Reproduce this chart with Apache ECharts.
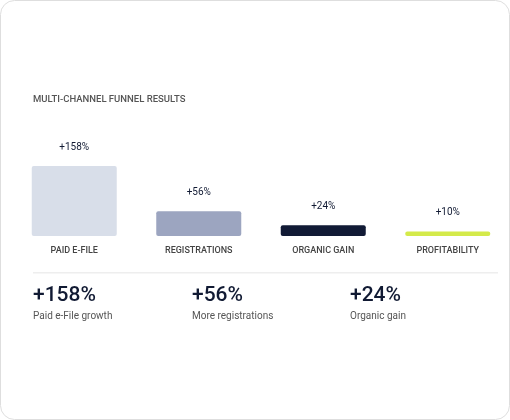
<!DOCTYPE html>
<html><head><meta charset="utf-8">
<script src="https://cdn.jsdelivr.net/npm/echarts@6/dist/echarts.min.js"></script>
<style>html,body{margin:0;padding:0;background:#fff;}#c{width:510px;height:420px;}</style>
</head><body><div id="c"></div>
<script>
const categories = ['PAID E-FILE','REGISTRATIONS','ORGANIC GAIN','PROFITABILITY'];
const values = [158, 56, 24, 10];
const barColors = ['#d8dee9','#9ca5c0','#111a35','#d4ea4a'];
const statValues = ['+158%','+56%','+24%'];
const statLabels = ['Paid e-File growth','More registrations','Organic gain'];
const statX = [33, 192, 350];
const F = 'Roboto, sans-serif';
const chart = echarts.init(document.getElementById('c'));
const graphics = [
  {type:'rect', shape:{x:0.5,y:0.5,width:509,height:419,r:14}, style:{fill:'#fff',stroke:'#dedede',lineWidth:1}, z:-10},
  {type:'text', x:33, y:95, style:{text:'MULTI-CHANNEL FUNNEL RESULTS', fill:'#555', font:'500 9.5px '+F}},
  {type:'rect', shape:{x:33,y:272,width:465,height:1.5}, style:{fill:'#eeeeee'}}
];
statValues.forEach((v,i)=>{
  graphics.push({type:'text', x:statX[i], y:285, style:{text:v, fill:'#111a33', font:'500 21px '+F}});
  graphics.push({type:'text', x:statX[i], y:311, style:{text:statLabels[i], fill:'#555', font:'10px '+F}});
});
chart.setOption({
  animation:false,
  grid:{left:12, width:508, top:166, height:70},
  xAxis:{type:'category', data:categories, axisLine:{show:false}, axisTick:{show:false},
    axisLabel:{color:'#444', fontSize:9, fontFamily:F, fontWeight:500, margin:10}},
  yAxis:{type:'value', min:0, max:158, show:false, splitLine:{show:false}},
  series:[{type:'bar', barWidth:85,
    data: values.map((v,i)=>({value:v, itemStyle:{color:barColors[i], borderRadius:2}})),
    label:{show:true, position:'top', distance:14, formatter:p=>'+'+p.value+'%', color:'#111a33', fontSize:10, fontFamily:F}}],
  graphic: graphics
});
</script></body></html>
